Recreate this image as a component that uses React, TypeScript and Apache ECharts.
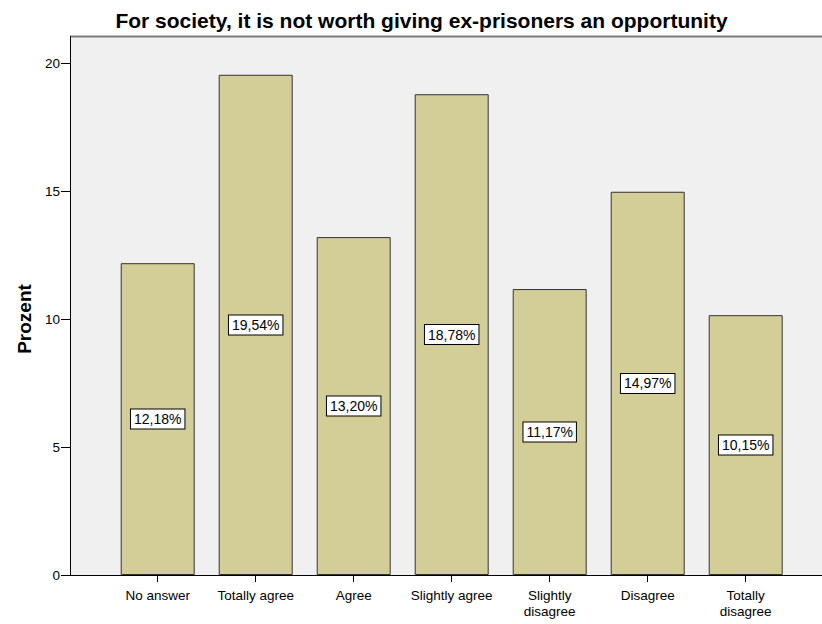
import React, { useEffect, useRef } from "react";
import * as echarts from "echarts";

const categories = ["No answer", "Totally agree", "Agree", "Slightly agree", "Slightly\ndisagree", "Disagree", "Totally\ndisagree"];
const values = [12.18, 19.54, 13.2, 18.78, 11.17, 14.97, 10.15];
const titleText = "For society, it is not worth giving ex-prisoners an opportunity";
const yAxisName = "Prozent";

export default function App() {
  const ref = useRef<HTMLDivElement>(null);
  useEffect(() => {
    const chart = echarts.init(ref.current!, null, { renderer: "svg" });
    const font = "Arial, 'Liberation Sans', sans-serif";
    chart.setOption({
      animation: false,
      backgroundColor: "#ffffff",
      title: {
        text: titleText,
        left: 416.5,
        textAlign: "center",
        top: 5,
        textStyle: { fontFamily: font, fontSize: 21, fontWeight: "bold", color: "#000" },
      },
      graphic: [
        { type: "rect", z: -10, shape: { x: 70, y: 37, width: 800, height: 538 }, style: { fill: "#f0f0f0" } },
        { type: "line", z: 10, shape: { x1: 70, y1: 36.5, x2: 822, y2: 36.5 }, style: { stroke: "#7a7a7a", lineWidth: 2 } },
        { type: "line", z: 10, shape: { x1: 70.5, y1: 36, x2: 70.5, y2: 575 }, style: { stroke: "#000", lineWidth: 1 } },
        { type: "line", z: 10, shape: { x1: 70, y1: 575.5, x2: 822, y2: 575.5 }, style: { stroke: "#000", lineWidth: 1 } },
      ],
      grid: { left: 108.7, right: 27.3, top: 63, bottom: 49, containLabel: false },
      xAxis: {
        type: "category",
        data: categories,
        axisLine: { show: false },
        axisTick: { show: true, alignWithLabel: true, length: 7, lineStyle: { color: "#000" } },
        axisLabel: { fontFamily: font, fontSize: 13.5, color: "#000", margin: 12, lineHeight: 16, interval: 0 },
      },
      yAxis: {
        type: "value",
        min: 0,
        max: 20,
        interval: 5,
        offset: 38.7,
        name: yAxisName,
        nameLocation: "middle",
        nameGap: 36,
        nameTextStyle: { fontFamily: font, fontSize: 19, fontWeight: "bold", color: "#000" },
        axisLine: { show: false },
        axisTick: { show: true, inside: false, length: 9, lineStyle: { color: "#000" } },
        axisLabel: { fontFamily: font, fontSize: 13.5, color: "#000", margin: 10 },
        splitLine: { show: false },
      },
      series: [
        {
          type: "bar",
          data: values,
          barWidth: "75.5%",
          itemStyle: { color: "#d3ce97", borderColor: "#333", borderWidth: 1 },
          label: {
            show: true,
            position: "inside",
            formatter: (p: any) => p.value.toFixed(2).replace(".", ",") + "%",
            fontFamily: font,
            fontSize: 14,
            color: "#000",
            backgroundColor: "#fff",
            borderColor: "#000",
            borderWidth: 1,
            padding: [3, 3, 2, 3],
          },
        },
      ],
    });
    return () => chart.dispose();
  }, []);
  return <div ref={ref} style={{ width: 822, height: 624, position: "absolute", left: 0, top: 0 }} />;
}
